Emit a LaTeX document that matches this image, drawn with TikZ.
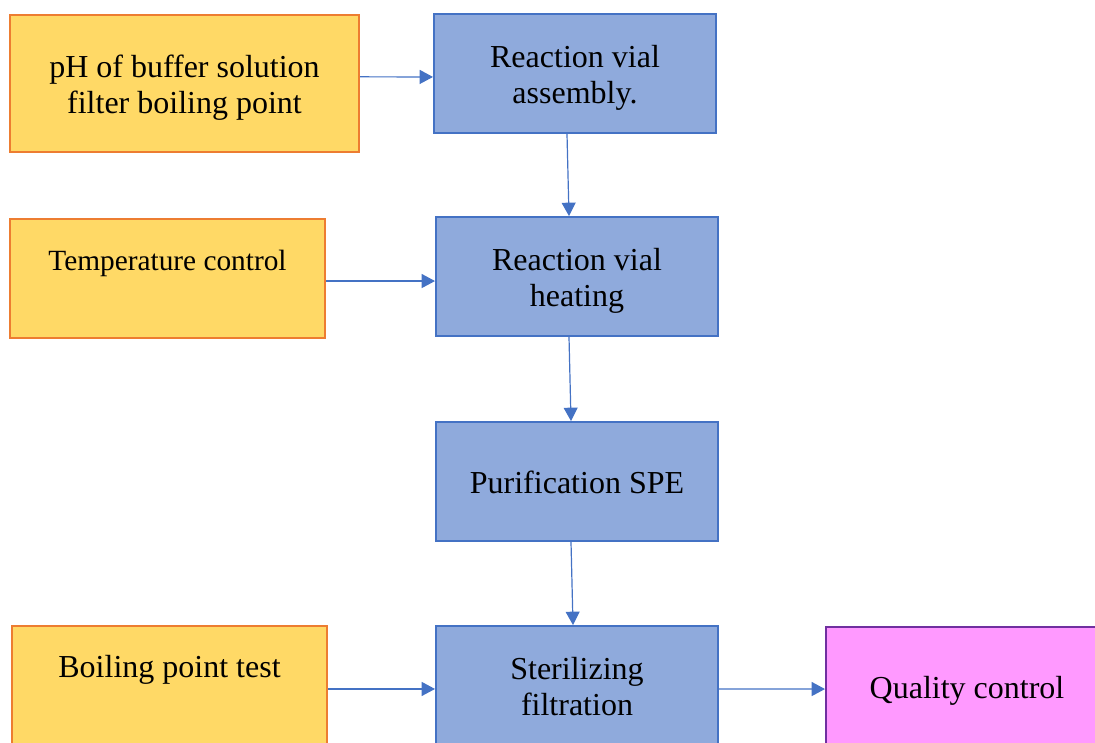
\documentclass[tikz,border=0pt]{standalone}
\usepackage{fontspec}
\setmainfont{Liberation Serif}
\usepackage{xcolor}
\usetikzlibrary{arrows.meta}

\definecolor{stepfill}{HTML}{8FAADC}
\definecolor{stepline}{HTML}{4472C4}
\definecolor{inputfill}{HTML}{FFD966}
\definecolor{inputline}{HTML}{ED7D31}
\definecolor{qcfill}{HTML}{FF99FF}
\definecolor{qcline}{HTML}{7030A0}

\begin{document}
\begin{tikzpicture}[x=0.75pt, y=-0.75pt,
    box/.style={line width=1.5pt, align=center, inner sep=0pt,
        minimum width=211.5pt, minimum height=89.25pt,
        text height=23.8pt, text depth=6pt,
        font=\fontsize{24}{27}\selectfont},
    twolines/.style={text height=50.8pt},
    toptext/.style={text height=17pt, text depth=29pt},
    stepbox/.style={box, draw=stepline, fill=stepfill},
    inputbox/.style={box, draw=inputline, fill=inputfill, minimum width=236.25pt},
    qcbox/.style={box, draw=qcline, fill=qcfill},
    flow/.style={draw=stepline, line width=0.9pt, -{Triangle[length=10pt,width=10.5pt]}}]

    \useasboundingbox (0,0) rectangle (1095,742);

    \node[inputbox, twolines, minimum width=261.75pt, minimum height=102.75pt] (ph) at (184.5,83.5) {pH of buffer solution\\filter boiling point};
    \node[inputbox, toptext, font=\fontsize{22}{27}\selectfont] (temp) at (167.5,278.5) {Temperature control};
    \node[inputbox, toptext] (boil) at (169.5,685.5) {Boiling point test};

    \node[stepbox, twolines] (assembly) at (575,73.5) {Reaction vial\\assembly.};
    \node[stepbox, twolines] (heating) at (577,276.5) {Reaction vial\\heating};
    \node[stepbox] (purif) at (577,481.5) {Purification SPE};
    \node[stepbox, twolines] (steril) at (577,685.5) {Sterilizing\\filtration};
    \node[qcbox] (quality) at (967,686.5) {Quality control};

    \draw[flow] ([yshift=5pt]ph.east) -- ([yshift=-2.6pt]assembly.west);
    \draw[flow] ([yshift=-1.9pt]temp.east) -- ([yshift=-3.4pt]heating.west);
    \draw[flow] ([yshift=-2.6pt]boil.east) -- ([yshift=-2.6pt]steril.west);
    \draw[flow] ([yshift=-2.6pt]steril.east) -- ([yshift=-1.9pt]quality.west);

    \draw[flow] ([xshift=-6pt]assembly.south) -- ([xshift=-6pt]heating.north);
    \draw[flow] ([xshift=-6pt]heating.south) -- ([xshift=-4.5pt]purif.north);
    \draw[flow] ([xshift=-4.5pt]purif.south) -- ([xshift=-3pt]steril.north);
\end{tikzpicture}
\end{document}
